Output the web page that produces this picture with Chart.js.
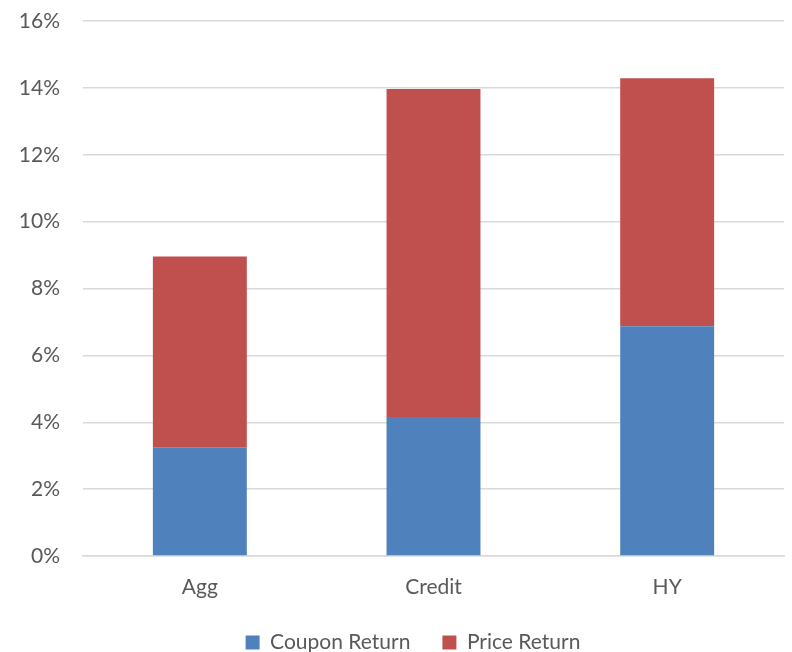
<!DOCTYPE html>
<html>
<head>
<meta charset="utf-8">
<script src="https://cdn.jsdelivr.net/npm/chart.js@4"></script>
<style>
html,body{margin:0;padding:0;background:#fff;}
#wrap{width:792px;height:652px;}
</style>
</head>
<body>
<div id="wrap"><canvas id="c" width="792" height="652"></canvas></div>
<script>
const categories = ["Agg", "Credit", "HY"];
const couponReturn = [3.25, 4.16, 6.87];
const priceReturn = [5.71, 9.81, 7.42];
const seriesNames = ["Coupon Return", "Price Return"];

const FONT = "Lato, 'Liberation Sans', sans-serif";

const shiftLegend = {
  id: 'shiftLegend',
  afterLayout(chart) {
    if (chart.legend) { chart.legend.left += 21; chart.legend.right += 21; }
  }
};

new Chart(document.getElementById('c'), {
  type: 'bar',
  data: {
    labels: categories,
    datasets: [
      { label: seriesNames[0], data: couponReturn, backgroundColor: '#4F81BD', barPercentage: 0.402, categoryPercentage: 1.0 },
      { label: seriesNames[1], data: priceReturn, backgroundColor: '#C0504D', barPercentage: 0.402, categoryPercentage: 1.0 }
    ]
  },
  plugins: [shiftLegend],
  options: {
    responsive: false,
    animation: false,
    layout: { padding: { top: 21, right: 8, left: 0, bottom: -11 } },
    plugins: {
      legend: {
        position: 'bottom',
        labels: {
          font: { family: FONT, size: 21 },
          color: '#595959',
          boxWidth: 14,
          boxHeight: 14,
          padding: 32,
          useBorderRadius: false
        }
      },
      tooltip: { enabled: false }
    },
    scales: {
      x: {
        stacked: true,
        grid: { display: false },
        border: { display: true, color: '#D9D9D9', width: 1.5 },
        ticks: { font: { family: FONT, size: 21 }, color: '#595959', padding: 11 },
        afterFit: (s) => { s.height = 44; }
      },
      y: {
        stacked: true,
        min: 0,
        max: 16,
        grid: { color: '#D9D9D9', lineWidth: 1.5, drawTicks: true, tickLength: 23, tickColor: 'rgba(0,0,0,0)' },
        border: { display: false },
        ticks: {
          stepSize: 2,
          font: { family: FONT, size: 21 },
          color: '#595959',
          padding: 0,
          callback: (v) => v + '%'
        },
        afterFit: (s) => { s.width = 83; }
      }
    }
  }
});
</script>
</body>
</html>
